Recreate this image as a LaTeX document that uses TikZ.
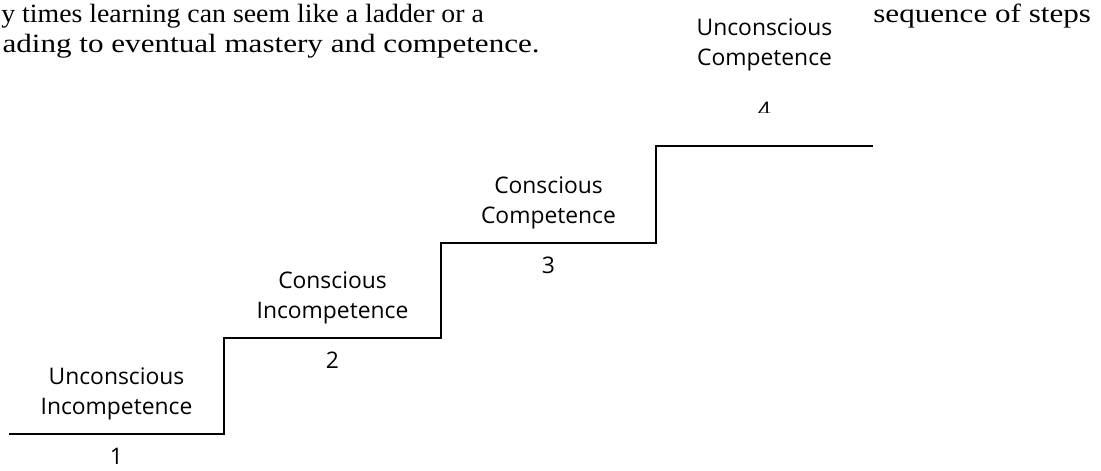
\documentclass[tikz,border=0pt]{standalone}
\usepackage{fontspec}
\setmainfont{Liberation Serif}
\newfontfamily\stepfont{Open Sans}
\newfontfamily\bodyfont[FakeStretch=1.18]{Liberation Serif}
\newfontfamily\bodyfontn[FakeStretch=1.055]{Liberation Serif}
\usetikzlibrary{positioning, calc}

\begin{document}
\begin{tikzpicture}[
  x=0.02cm, y=-0.02cm,
  stair/.style={line width=1.1pt, line join=miter},
  steplabel/.style={align=center, inner sep=0pt, font=\stepfont\fontsize{13}{17}\selectfont},
  stepnum/.style={inner sep=0pt, font=\stepfont\fontsize{13}{17}\selectfont},
  prose/.style={inner sep=0pt, font=\bodyfont\fontsize{15}{18}\selectfont},
]
  \clip (0,0) rectangle (1101,470);

  % Staircase corners
  \coordinate (c0) at (9,434);
  \coordinate (c1) at (224,434);
  \coordinate (c2) at (224,338);
  \coordinate (c3) at (441,338);
  \coordinate (c4) at (441,243);
  \coordinate (c5) at (656,243);
  \coordinate (c6) at (656,146);
  \coordinate (c7) at (873,146);
  \draw[stair] (c0) -- (c1) -- (c2) -- (c3) -- (c4) -- (c5) -- (c6) -- (c7);

  % Tread centres
  \coordinate (t1) at ($(c0)!0.5!(c1)$);
  \coordinate (t2) at ($(c2)!0.5!(c3)$);
  \coordinate (t3) at ($(c4)!0.5!(c5)$);
  \coordinate (t4) at ($(c6)!0.5!(c7)$);

  % Steps 1-3
  \node[steplabel, above=8pt of t1] (uninc) {Unconscious\\Incompetence};
  \node[stepnum, below=7.7pt of t1] (n1) {1};
  \node[steplabel, above=8pt of t2] (coninc) {Conscious\\Incompetence};
  \node[stepnum, below=7.7pt of t2] (n2) {2};
  \node[steplabel, above=8pt of t3] (concomp) {Conscious\\Competence};
  \node[stepnum, below=7.7pt of t3] (n3) {3};

  % Step 4, number partly hidden
  \begin{scope}
    \clip (650,0) rectangle (880,112);
    \node[stepnum, above=15.3pt of t4] (n4) {4};
  \end{scope}
  \node[steplabel, above=17.6pt of n4] (uncomp) {Unconscious\\Competence};

  % Surrounding text
  \node[prose, anchor=base west, font=\bodyfontn\fontsize{15}{18}\selectfont] (line1) at (1,22) {y times learning can seem like a ladder or a};
  \node[prose, anchor=base east] (line2) at (540,52) {ading to eventual mastery and competence.};
  \node[prose, anchor=base west] (line1b) at (873,22) {sequence of steps};
\end{tikzpicture}
\end{document}
